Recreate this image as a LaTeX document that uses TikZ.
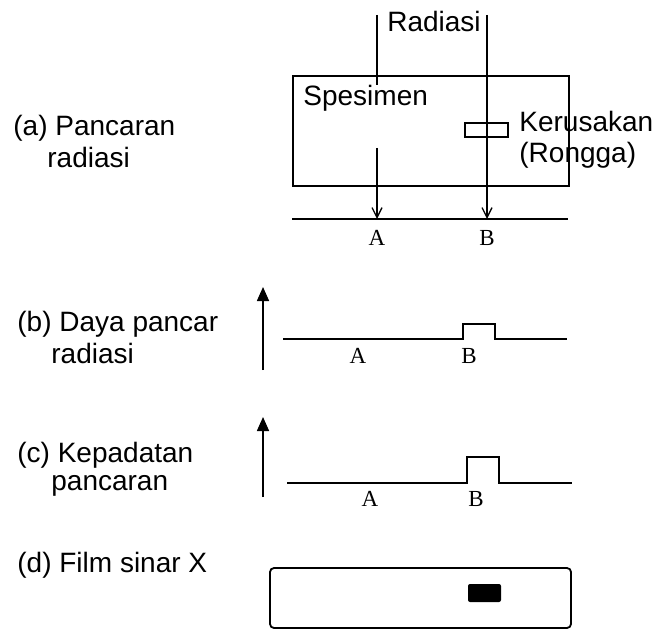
\documentclass[tikz,border=0pt]{standalone}
\usepackage{fontspec}
\setmainfont{Liberation Sans}
\newfontfamily\pointfont{Liberation Serif}
\usetikzlibrary{positioning,arrows.meta}

\begin{document}
\begin{tikzpicture}[
  x=0.5pt, y=-0.5pt,
  font=\fontsize{14}{16}\selectfont,
  caption/.style={anchor=west, inner sep=0pt, align=left},
  point/.style={font=\pointfont\fontsize{11.5}{13}\selectfont, inner sep=0pt},
  ray/.style={line width=0.65pt},
  rayend/.style={ray, -{Straight Barb[length=5pt,width=5pt]}},
  axis/.style={line width=0.8pt, -{Triangle[length=7pt,width=6pt]}},
  trace/.style={line width=1.1pt},
  frame/.style={draw, line width=0.9pt, inner sep=0pt}
]
\useasboundingbox (0,0) rectangle (657,630);

\node[caption] (lbla) at (13,141) {(a) Pancaran\\\hspace*{17pt}radiasi};
\node[caption] (lblb) at (17,337) {(b) Daya pancar\\\hspace*{17pt}radiasi};
\node[caption] (lblc) at (17,469) {(c) Kepadatan\\[-2pt]\hspace*{17pt}pancaran};
\node[caption] (lbld) at (17,565) {(d) Film sinar X};

\node[frame, minimum width=138pt, minimum height=55pt] (specimen) at (431,131) {};
\node[frame, line width=0.6pt, minimum width=21.5pt, minimum height=7pt] (cavity) at (486.5,130) {};
\node[inner sep=0pt] (radiasi) at (434,21) {Radiasi};
\node[caption] (spesimen) at (303,98) {Spesimen};
\node[caption] (kerusakan) at (519,140) {Kerusakan\\[-0.5pt](Rongga)};

\coordinate (rayA) at (377,15);
\coordinate (rayB) at (487,15);
\coordinate (rayAin) at (377,148);
\coordinate (groundL) at (292,219);
\coordinate (groundR) at (568,219);
\draw[ray] (rayA) -- (rayA |- spesimen.north);
\draw[rayend] (rayAin) -- (rayAin |- groundL);
\draw[rayend] (rayB) -- (rayB |- groundL);
\draw[trace] (groundL) -- (groundR);
\node[point] (a1) at (377,238) {A};
\node[point] (b1) at (487,238) {B};

\coordinate (axisb) at (263,370);
\draw[axis] (axisb) -- ++(0,-83);
\draw[trace] (283,339) -- (463,339) -- (463,324) -- (495,324) -- (495,339) -- (567,339);
\node[point] (a2) at (358,356) {A};
\node[point] (b2) at (469,356) {B};

\coordinate (axisc) at (263,497);
\draw[axis] (axisc) -- ++(0,-80);
\draw[trace] (287,483) -- (467,483) -- (467,457) -- (499,457) -- (499,483) -- (572,483);
\node[point] (a3) at (370,499) {A};
\node[point] (b3) at (476,499) {B};

\node[frame, rounded corners=2pt, minimum width=150.5pt, minimum height=30pt] (film) at (420.5,598) {};
\node[fill=black, rounded corners=1pt, inner sep=0pt, minimum width=16.5pt, minimum height=9pt] (spot) at (484.5,593) {};
\end{tikzpicture}
\end{document}
